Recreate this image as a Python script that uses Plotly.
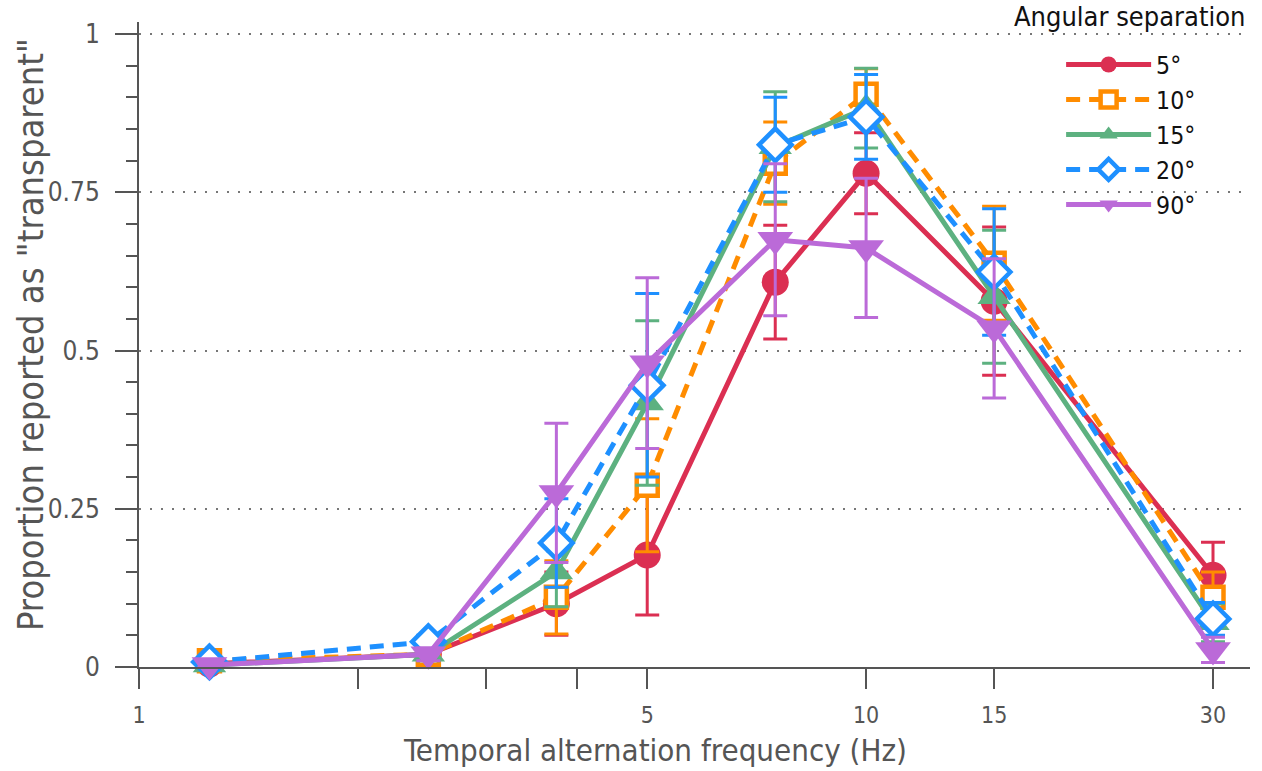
import plotly.graph_objects as go

freq = [1.25, 2.5, 3.75, 5, 7.5, 10, 15, 30]

p5 = [0.005, 0.02, 0.10, 0.177, 0.608, 0.78, 0.578, 0.145]
e5 = [0.005, 0.01, 0.05, 0.095, 0.09, 0.064, 0.117, 0.052]
p10 = [0.01, 0.02, 0.11, 0.287, 0.796, 0.905, 0.638, 0.11]
e10 = [0.008, 0.01, 0.058, 0.105, 0.065, 0.04, 0.09, 0.04]
p15 = [0.003, 0.02, 0.15, 0.417, 0.822, 0.883, 0.585, 0.07]
e15 = [0.005, 0.01, 0.055, 0.13, 0.087, 0.063, 0.105, 0.03]
p20 = [0.008, 0.04, 0.196, 0.445, 0.825, 0.869, 0.624, 0.076]
e20 = [0.006, 0.01, 0.07, 0.145, 0.075, 0.067, 0.1, 0.026]
p90 = [0.003, 0.02, 0.275, 0.48, 0.675, 0.662, 0.535, 0.027]
e90 = [0.003, 0.01, 0.11, 0.135, 0.12, 0.11, 0.11, 0.02]

names = ["5°", "10°", "15°", "20°", "90°"]
colors = ["#DB2F52", "#FF8C00", "#5DB180", "#1E90FF", "#BB6AD8"]

series = [
    (p5, e5, "circle", "solid", True),
    (p10, e10, "square", "14px,9px", False),
    (p15, e15, "triangle-up", "solid", True),
    (p20, e20, "diamond", "14px,9px", False),
    (p90, e90, "triangle-down", "solid", True),
]
sizes = [27, 21, 29, 25, 31]

FONT = "DejaVu Sans Condensed, sans-serif"

fig = go.Figure()
for (vals, errs, sym, dash, filled), name, col, sz in zip(series, names, colors, sizes):
    fig.add_trace(go.Scatter(
        x=freq, y=vals, name=name, mode="lines+markers",
        line=dict(color=col, width=5, dash=dash),
        marker=dict(symbol=sym, size=sz,
                    color=col if filled else "white",
                    line=dict(color=col, width=0 if filled else 4.5)),
        error_y=dict(type="data", array=errs, visible=True, color=col,
                     thickness=3, width=12),
        cliponaxis=False,
    ))

fig.update_layout(
    width=1262, height=771,
    margin=dict(l=139, r=12, t=22, b=104),
    paper_bgcolor="white", plot_bgcolor="white",
    font=dict(family=FONT, color="#555555"),
    showlegend=True,
    legend=dict(x=0.956, xanchor="right", y=0.969, yanchor="top",
                font=dict(size=24.6, color="#111111", family=FONT),
                bgcolor="rgba(0,0,0,0)", itemwidth=85, tracegroupgap=0),
    annotations=[
        dict(text="Angular separation", xref="paper", yref="paper",
             x=0.9973, y=1.0078, xanchor="right", yanchor="middle",
             showarrow=False,
             font=dict(size=27, color="#111111", family=FONT)),
        dict(text="Temporal alternation frequency (Hz)", xref="paper", yref="paper",
             x=0.4644, y=-0.128, xanchor="center", yanchor="middle",
             showarrow=False,
             font=dict(size=31, color="#555555", family=FONT)),
        dict(text='Proportion reported as "transparent"', xref="paper", yref="paper",
             x=-0.0981, y=0.5147, xanchor="center", yanchor="middle",
             textangle=-90, showarrow=False,
             font=dict(size=36, color="#555555", family=FONT)),
    ],
)

fig.update_xaxes(
    type="log", range=[0, 1.528], automargin=False,
    tickvals=[1, 2, 3, 4, 5, 10, 15, 30],
    ticktext=["1", "", "", "", "5", "10", "15", "30"],
    ticks="outside", ticklen=20, tickwidth=2, tickcolor="#555555",
    showline=True, linecolor="#555555", linewidth=2,
    showgrid=False, zeroline=False,
    tickfont=dict(size=23, color="#555555"),
    ticklabelstandoff=6,
)
fig.update_yaxes(
    range=[0, 1.019], automargin=False,
    tickvals=[0, 0.25, 0.5, 0.75, 1],
    ticktext=["0", "0.25", "0.5", "0.75", "1"],
    ticks="outside", ticklen=22, tickwidth=2, tickcolor="#555555",
    minor=dict(dtick=0.05, ticks="outside", ticklen=11, tickwidth=2,
               tickcolor="#555555", showgrid=False),
    showline=True, linecolor="#555555", linewidth=2,
    showgrid=True, gridcolor="#777777", griddash="2px,9px", gridwidth=1.5,
    zeroline=False,
    tickfont=dict(size=26, color="#555555"),
    ticklabelstandoff=10,
)

fig.write_html("out.html")
